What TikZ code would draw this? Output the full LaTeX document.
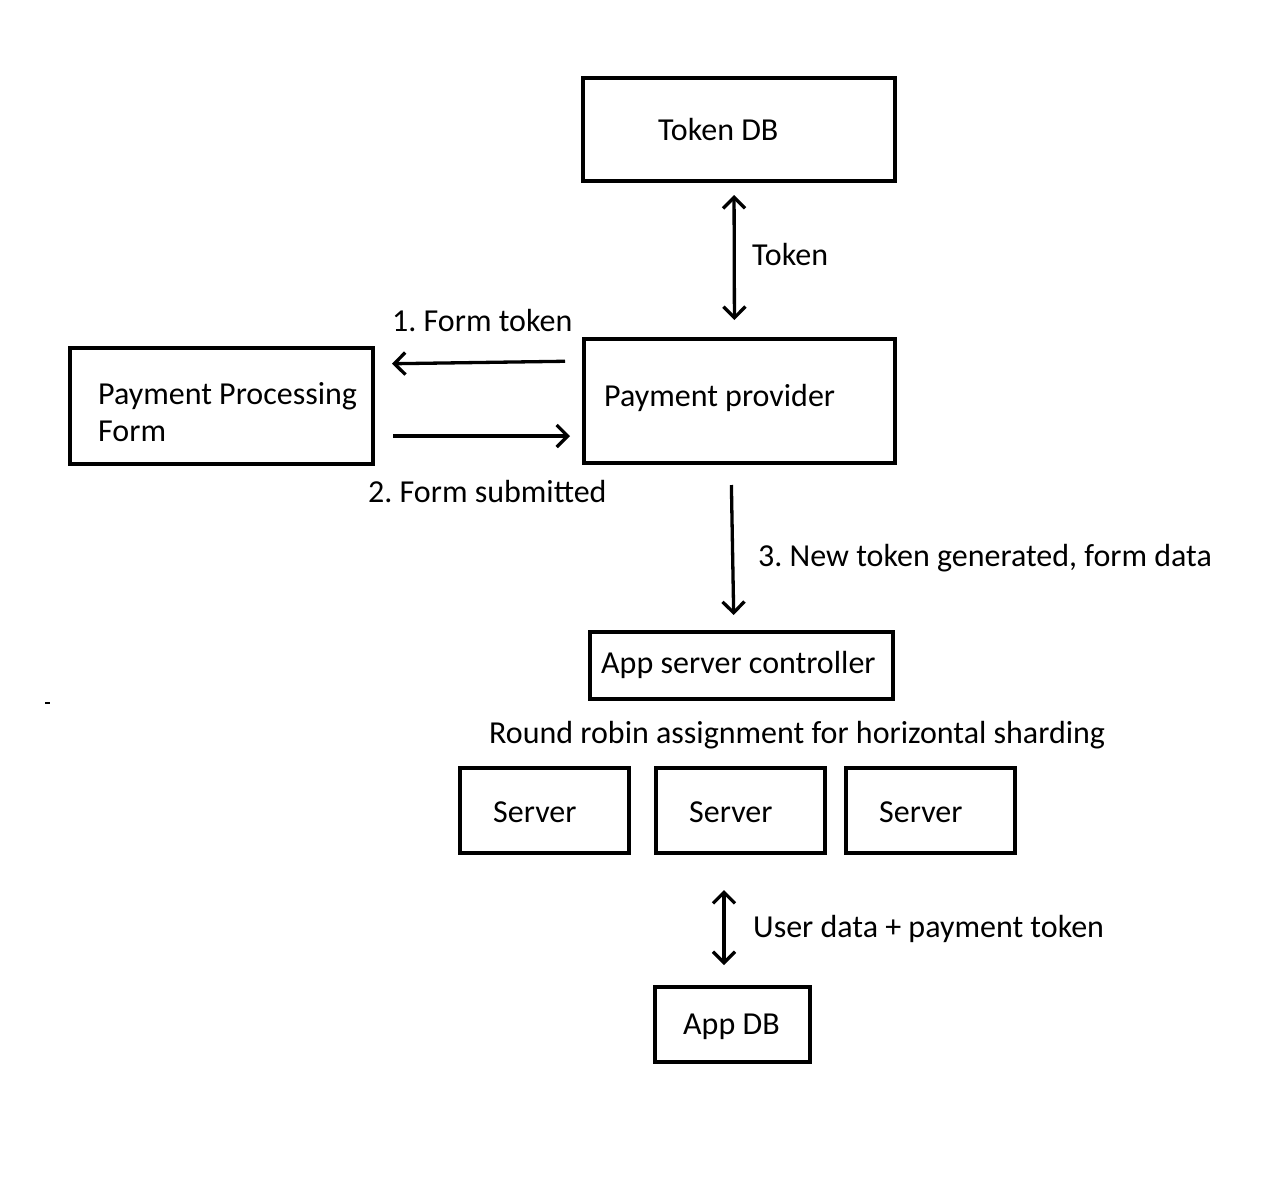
\documentclass[tikz,border=0pt]{standalone}
\usepackage{fontspec}
\setmainfont{Carlito}
\frenchspacing
\usetikzlibrary{
    positioning,
    arrows.meta
}

\begin{document}
\begin{tikzpicture}
[
    x=1pt,
    y=-1pt,
    font=\fontsize{32}{37}\selectfont,
    box/.style={
        rectangle,
        draw=black,
        line width=3.8pt,
        inner sep=0pt,
        outer sep=0pt
    },
    txt/.style={
        inner sep=0pt,
        anchor=base west,
        align=left
    },
    arrow/.style={
        -{Straight Barb[length=11pt,width=22pt]},
        line width=3.3pt
    },
    twoway/.style={
        {Straight Barb[length=11pt,width=22pt]}-{Straight Barb[length=11pt,width=22pt]},
        line width=3.3pt
    }
]

\useasboundingbox (0,0) rectangle (1276,1200);


% =====================
% TOKEN STORE
% =====================

\node[
box,
minimum width=312pt,
minimum height=103pt
]
(tokendb)
at (739,129.5)
{};

\node[txt] (tokendbtext) at (658,140) {Token DB};



% =====================
% PAYMENT
% =====================

\node[
box,
minimum width=311pt,
minimum height=124pt
]
(provider)
at (739.5,401)
{};

\node[txt] (providertext) at (604,406) {Payment provider};


\node[
box,
minimum width=303pt,
minimum height=116pt
]
(form)
at (221.5,406)
{};

% base of the last line
\node[txt] (formtext) at (98,441) {Payment Processing\\Form};



% =====================
% APP SERVERS
% =====================

\node[
box,
minimum width=303pt,
minimum height=67pt
]
(controller)
at (741.5,665.5)
{};

\node[txt] (controllertext) at (601,673) {App server controller};

\node[txt] (roundrobin) at (489,743) {Round robin assignment for horizontal sharding};


\node[
box,
minimum width=169pt,
minimum height=85pt
]
(server1)
at (544.5,810.5)
{};

\node[
box,
minimum width=169pt,
minimum height=85pt,
right=27pt of server1
]
(server2)
{};

\node[
box,
minimum width=169pt,
minimum height=85pt,
right=21pt of server2
]
(server3)
{};

\node[txt] (server1text) at (493,822) {Server};
\node[txt] (server2text) at (689,822) {Server};
\node[txt] (server3text) at (879,822) {Server};


\node[
box,
minimum width=155pt,
minimum height=75pt
]
(appdb)
at (732.5,1024.5)
{};

\node[txt] (appdbtext) at (683,1034) {App DB};



% =====================
% CONNECTIONS
% =====================

\draw[twoway, shorten <=14pt, shorten >=19pt]
([xshift=-5pt]tokendb.south)
--
([xshift=-5pt]provider.north);

\node[txt] (tokenlabel) at (752,265) {Token};


\draw[arrow, shorten <=19pt, shorten >=19pt]
([yshift=40pt]provider.west)
--
([yshift=42pt]form.east);

\node[txt] (formtokenlabel) at (392,331) {1. Form token};


\draw[arrow, shorten <=20pt, shorten >=14pt]
([yshift=-30pt]form.east)
--
([yshift=-35pt]provider.west);

\node[txt] (submittedlabel) at (368,502) {2. Form submitted};


\draw[arrow, shorten <=22pt, shorten >=17pt]
([xshift=-8.5pt]provider.south)
--
([xshift=-7.5pt]controller.north);

\node[txt] (newtokenlabel) at (758,566) {3. New token generated, form data};


\draw[twoway, shorten <=37pt, shorten >=22pt]
([xshift=-16.5pt]server2.south)
--
([xshift=-8.5pt]appdb.north);

\node[txt] (userdatalabel) at (753,937) {User data + payment token};


% stray mark
\fill (45,702) rectangle (50,704);

\end{tikzpicture}
\end{document}
